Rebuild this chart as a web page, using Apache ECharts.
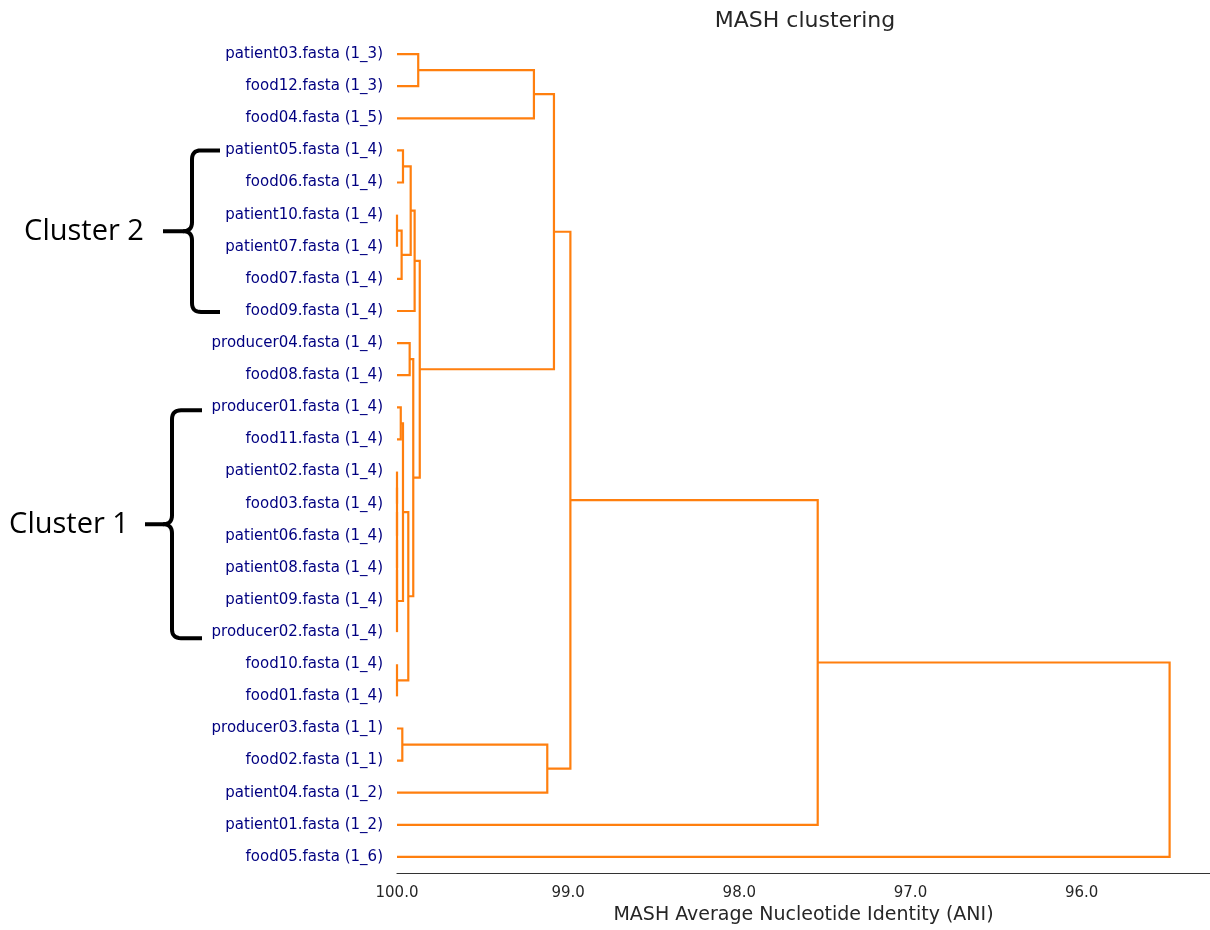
<!DOCTYPE html>
<html><head><meta charset="utf-8">
<script src="https://cdn.jsdelivr.net/npm/echarts@6/dist/echarts.min.js"></script>
<style>html,body{margin:0;padding:0;background:#fff}#c{width:1210px;height:930px}</style>
</head><body><div id="c"></div>
<script>
// Leaf labels, top to bottom
const leafLabels = [
  'patient03.fasta (1_3)', 'food12.fasta (1_3)', 'food04.fasta (1_5)',
  'patient05.fasta (1_4)', 'food06.fasta (1_4)', 'patient10.fasta (1_4)',
  'patient07.fasta (1_4)', 'food07.fasta (1_4)', 'food09.fasta (1_4)',
  'producer04.fasta (1_4)', 'food08.fasta (1_4)', 'producer01.fasta (1_4)',
  'food11.fasta (1_4)', 'patient02.fasta (1_4)', 'food03.fasta (1_4)',
  'patient06.fasta (1_4)', 'patient08.fasta (1_4)', 'patient09.fasta (1_4)',
  'producer02.fasta (1_4)', 'food10.fasta (1_4)', 'food01.fasta (1_4)',
  'producer03.fasta (1_1)', 'food02.fasta (1_1)', 'patient04.fasta (1_2)',
  'patient01.fasta (1_2)', 'food05.fasta (1_6)'
];
// Linkage: [childA, childB, ANI at merge]; ids < 26 are leaves, k-th merge gets id 26+k
const linkage = [
  [5, 6, 100.0],     // 26
  [13, 14, 100.0],   // 27
  [27, 15, 100.0],   // 28
  [28, 16, 100.0],   // 29
  [29, 17, 100.0],   // 30
  [30, 18, 100.0],   // 31
  [19, 20, 100.0],   // 32
  [3, 4, 99.965],    // 33
  [26, 7, 99.973],   // 34
  [11, 12, 99.978],  // 35
  [21, 22, 99.969],  // 36
  [35, 31, 99.965],  // 37
  [33, 34, 99.920],  // 38
  [9, 10, 99.926],   // 39
  [37, 32, 99.934],  // 40
  [38, 8, 99.897],   // 41
  [39, 40, 99.905],  // 42
  [0, 1, 99.876],    // 43
  [41, 42, 99.867],  // 44
  [43, 2, 99.200],   // 45
  [36, 23, 99.122],  // 46
  [45, 44, 99.083],  // 47
  [47, 46, 98.987],  // 48
  [48, 24, 97.542],  // 49
  [49, 25, 95.486]   // 50
];
const xTicks = [100, 99, 98, 97, 96];
const clusters = [
  { name: 'Cluster 2', from: 3, to: 8 },
  { name: 'Cluster 1', from: 11, to: 18 }
];

const n = leafLabels.length;
const pos = [];
for (let i = 0; i < n; i++) pos.push({ x: 100, y: i });
linkage.forEach(([a, b, h]) => pos.push({ x: h, y: (pos[a].y + pos[b].y) / 2 }));

const series = linkage.map(([a, b, h]) => ({
  type: 'line', xAxisIndex: 0, yAxisIndex: 1, symbol: 'none', clip: true,
  silent: true, animation: false,
  lineStyle: { color: '#ff7f0e', width: 2.2, cap: 'butt', join: 'miter' },
  data: [[pos[a].x, pos[a].y], [h, pos[a].y], [h, pos[b].y], [pos[b].x, pos[b].y]]
}));

const chart = echarts.init(document.getElementById('c'), null, { renderer: 'canvas' });
const font = 'DejaVu Sans';
chart.setOption({
  animation: false,
  backgroundColor: '#ffffff',
  title: {
    text: 'MASH clustering', left: 800, top: 5, textAlign: 'center',
    textStyle: { fontFamily: font, fontSize: 22, fontWeight: 'normal', color: '#262626' }
  },
  grid: { left: 397, right: 0, top: 38, bottom: 57, containLabel: false, outerBoundsMode: 'none' },
  xAxis: {
    type: 'value', min: 95.25, max: 100, inverse: true,
    axisLine: { show: true, onZero: false, lineStyle: { color: '#333333', width: 1.2 } },
    axisTick: { show: false },
    splitLine: { show: false },
    axisLabel: {
      customValues: xTicks, formatter: v => Number(v).toFixed(1),
      color: '#262626', fontFamily: font, fontSize: 15, margin: 13
    },
    name: 'MASH Average Nucleotide Identity (ANI)', nameLocation: 'middle', nameGap: 33,
    nameTextStyle: { fontFamily: font, fontSize: 19, color: '#262626' }
  },
  yAxis: [
    {
      type: 'category', data: leafLabels, inverse: true, position: 'left',
      axisLine: { show: false }, axisTick: { show: false }, splitLine: { show: false },
      axisLabel: { color: '#000080', fontFamily: font, fontSize: 15, margin: 14, padding: [6, 0, 0, 0] }
    },
    { type: 'value', min: -0.5, max: n - 0.5, inverse: true, show: false }
  ],
  series: series
});

// Quadratic bezier sampler for brace outline
function quad(p0, p1, p2, steps) {
  const pts = [];
  for (let i = 1; i <= steps; i++) {
    const t = i / steps, u = 1 - t;
    pts.push([u * u * p0[0] + 2 * u * t * p1[0] + t * t * p2[0],
              u * u * p0[1] + 2 * u * t * p1[1] + t * t * p2[1]]);
  }
  return pts;
}

// Cluster annotations (braces) placed from leaf positions
const graphics = [];
const cfg = [
  { right: 220, spine: 192, tip: 163, textX: 84, dyTop: 0, dyBot: 1 },
  { right: 202, spine: 172, tip: 145, textX: 69, dyTop: 3, dyBot: 6 }
];
clusters.forEach((c, k) => {
  const g = cfg[k];
  const yTop = chart.convertToPixel({ yAxisIndex: 1 }, c.from) + g.dyTop;
  const yBot = chart.convertToPixel({ yAxisIndex: 1 }, c.to) + g.dyBot;
  const yMid = (yTop + yBot) / 2;
  const r = 9, s = g.spine;
  let pts = [[g.right, yTop], [s + r, yTop]];
  pts = pts.concat(quad([s + r, yTop], [s, yTop], [s, yTop + r], 8));
  pts.push([s, yMid - r]);
  pts = pts.concat(quad([s, yMid - r], [s, yMid], [s - r, yMid], 8));
  pts.push([g.tip, yMid]);
  let pts2 = [[s - r, yMid]];
  pts2 = pts2.concat(quad([s - r, yMid], [s, yMid], [s, yMid + r], 8));
  pts2.push([s, yBot - r]);
  pts2 = pts2.concat(quad([s, yBot - r], [s, yBot], [s + r, yBot], 8));
  pts2.push([g.right, yBot]);
  [pts, pts2].forEach(p => graphics.push({
    type: 'polyline', shape: { points: p },
    style: { fill: null, stroke: '#000', lineWidth: 4, lineCap: 'butt', lineJoin: 'round' }
  }));
  graphics.push({
    type: 'text', x: g.textX, y: yMid + 1,
    style: { text: c.name, fontFamily: 'Open Sans', fontSize: 29, fill: '#000',
             align: 'center', verticalAlign: 'middle' }
  });
});
chart.setOption({ graphic: graphics });
</script>
</body></html>
